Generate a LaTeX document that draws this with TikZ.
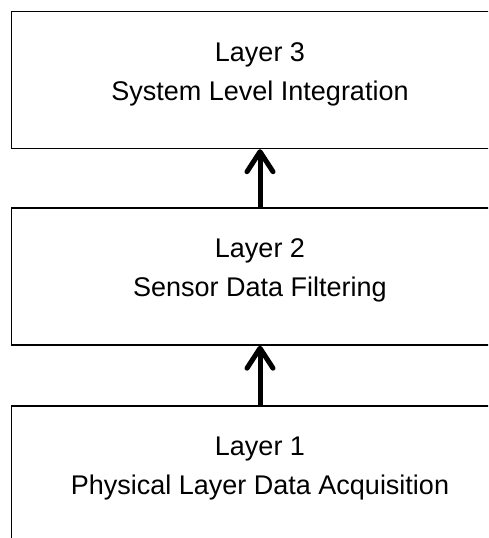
\documentclass[tikz,border=0pt]{standalone}
\usepackage{fontspec}
\setmainfont{Liberation Sans}
\usetikzlibrary{arrows.meta}
\begin{document}
\begin{tikzpicture}[x=1pt,y=-1pt,
  layerbox/.style={draw=black, line width=1.4pt, minimum width=497pt, minimum height=137pt, inner sep=0pt},
  txt/.style={font=\fontsize{27}{32}\selectfont, anchor=base, inner sep=0pt},
  uparrow/.style={line width=5pt, -{Straight Barb[length=20pt,width=26pt,round]}}]
  \useasboundingbox (0,0) rectangle (488,538);
  \clip (0,0) rectangle (488,538);
  \fill[white] (0,0) rectangle (488,538);

  % the three stacked layers
  \node[layerbox] (L3) at (260,80) {};
  \node[layerbox] (L2) at (260,276.5) {};
  \node[layerbox] (L1) at (260,474.5) {};

  % titles and descriptions
  \node[txt] (L3a) at ([yshift=-50.5pt]L3.north) {Layer 3};
  \node[txt] (L3b) at ([yshift=-89.5pt]L3.north) {System Level Integration};
  \node[txt] (L2a) at ([yshift=-50.5pt]L2.north) {Layer 2};
  \node[txt] (L2b) at ([yshift=-89.5pt]L2.north) {Sensor Data Filtering};
  \node[txt] (L1a) at ([yshift=-50.5pt]L1.north) {Layer 1};
  \node[txt] (L1b) at ([yshift=-89.5pt]L1.north) {Physical Layer Data Acquisition};

  % data flows upward
  \draw[uparrow] (L2.north) -- (L3.south);
  \draw[uparrow] (L1.north) -- (L2.south);
\end{tikzpicture}
\end{document}
